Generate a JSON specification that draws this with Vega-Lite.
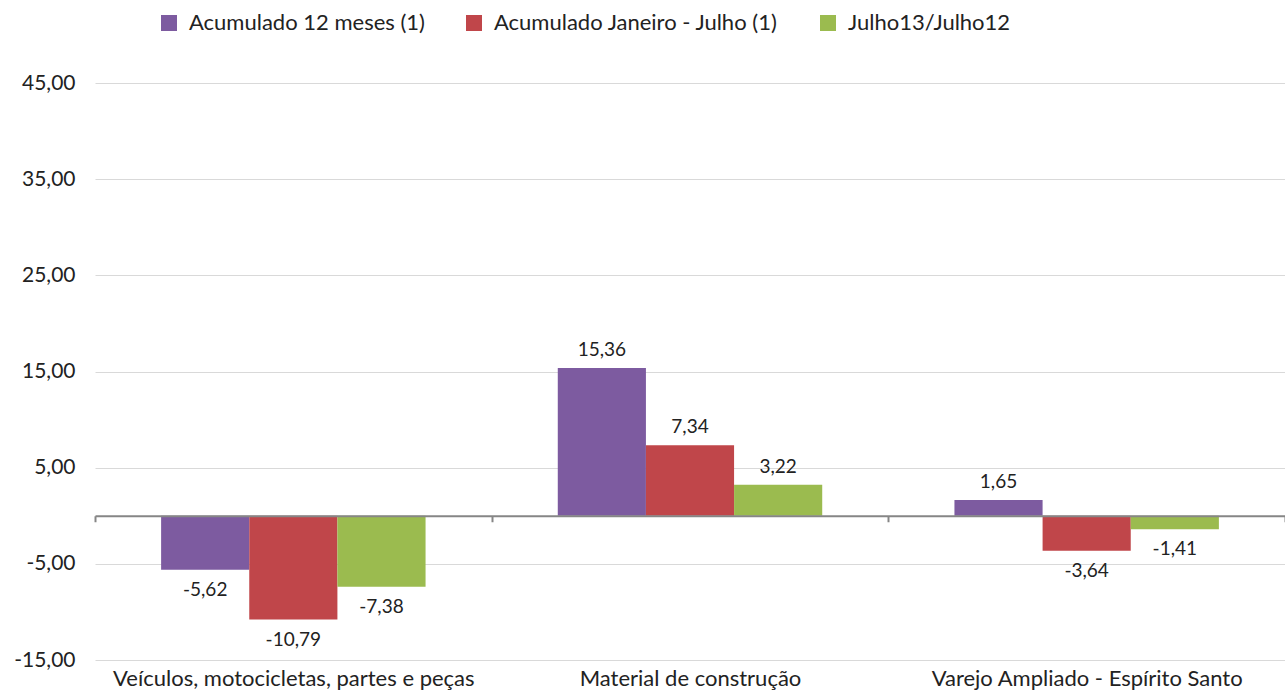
{
  "$schema": "https://vega.github.io/schema/vega-lite/v6.json",
  "width": 1190,
  "height": 577,
  "autosize": {"type": "none"},
  "padding": {"left": 95, "top": 83, "right": 0, "bottom": 31},
  "config": {
    "locale": {"number": {"decimal": ",", "thousands": ".", "grouping": [3], "currency": ["R$", ""], "minus": "-"}},
    "view": {"stroke": null},
    "font": "Lato"
  },
  "data": {
    "values": [
      {"categoria": "Veículos, motocicletas, partes e peças", "serie": "Acumulado 12 meses (1)", "valor": -5.62},
      {"categoria": "Veículos, motocicletas, partes e peças", "serie": "Acumulado Janeiro - Julho (1)", "valor": -10.79},
      {"categoria": "Veículos, motocicletas, partes e peças", "serie": "Julho13/Julho12", "valor": -7.38},
      {"categoria": "Material de construção", "serie": "Acumulado 12 meses (1)", "valor": 15.36},
      {"categoria": "Material de construção", "serie": "Acumulado Janeiro - Julho (1)", "valor": 7.34},
      {"categoria": "Material de construção", "serie": "Julho13/Julho12", "valor": 3.22},
      {"categoria": "Varejo Ampliado - Espírito Santo", "serie": "Acumulado 12 meses (1)", "valor": 1.65},
      {"categoria": "Varejo Ampliado - Espírito Santo", "serie": "Acumulado Janeiro - Julho (1)", "valor": -3.64},
      {"categoria": "Varejo Ampliado - Espírito Santo", "serie": "Julho13/Julho12", "valor": -1.41}
    ]
  },
  "encoding": {
    "x": {
      "field": "categoria", "type": "nominal", "sort": null,
      "scale": {"paddingInner": 0, "paddingOuter": 0},
      "axis": {
        "title": null, "orient": "bottom", "offset": -144.25, "zindex": 1,
        "domainColor": "#868686", "domainWidth": 2,
        "ticks": true, "tickBand": "extent", "tickColor": "#868686", "tickWidth": 2, "tickSize": 6,
        "labelPadding": 147, "labelAngle": 0, "labelFontSize": 22, "labelColor": "#222222", "labelLimit": 0, "grid": false
      }
    },
    "xOffset": {"field": "serie", "type": "nominal", "sort": null, "scale": {"paddingInner": 0, "paddingOuter": 0.75}},
    "y": {
      "field": "valor", "type": "quantitative",
      "scale": {"domain": [-15, 45], "nice": false, "zero": false},
      "axis": {
        "title": null, "values": [-15, -5, 5, 15, 25, 35, 45], "format": ",.2f",
        "domain": false, "ticks": false, "labelPadding": 20, "labelFontSize": 21, "labelColor": "#222222",
        "gridColor": "#D9D9D9", "gridWidth": 1
      }
    }
  },
  "layer": [
    {
      "mark": {"type": "bar"},
      "encoding": {
        "color": {
          "field": "serie", "type": "nominal",
          "scale": {"domain": ["Acumulado 12 meses (1)", "Acumulado Janeiro - Julho (1)", "Julho13/Julho12"], "range": ["#7D5BA0", "#C0464A", "#9BBB4F"]},
          "legend": {
            "title": null, "orient": "none", "legendX": 63, "legendY": -71, "direction": "horizontal",
            "symbolType": "square", "symbolSize": 256, "symbolStrokeWidth": 0,
            "labelFontSize": 22, "labelColor": "#222222", "labelLimit": 0, "columnPadding": 38, "labelOffset": 9
          }
        }
      }
    },
    {
      "transform": [{"filter": "datum.valor >= 0"}],
      "mark": {"type": "text", "baseline": "bottom", "dy": -8, "fontSize": 19, "color": "#222222"},
      "encoding": {"text": {"field": "valor", "type": "quantitative", "format": ",.2f"}}
    },
    {
      "transform": [{"filter": "datum.valor < 0"}],
      "mark": {"type": "text", "baseline": "top", "dy": 11, "fontSize": 19, "color": "#222222"},
      "encoding": {"text": {"field": "valor", "type": "quantitative", "format": ",.2f"}}
    }
  ]
}
